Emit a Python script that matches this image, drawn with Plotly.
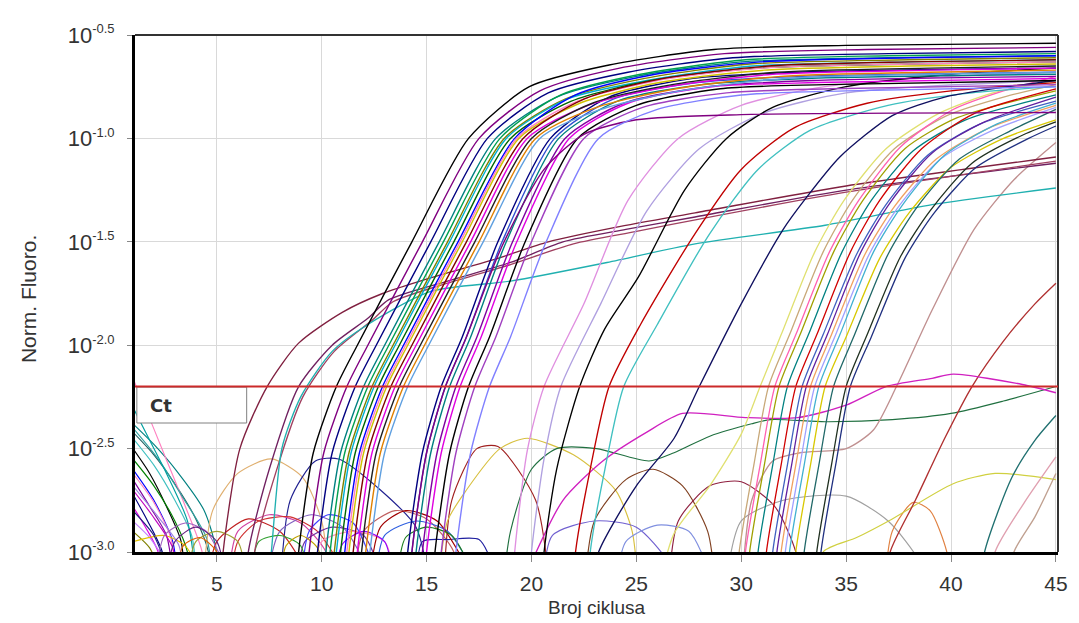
import plotly.graph_objects as go

# ---------------- data: knots (cycle, log10 normalised fluorescence) -------------
# early amplification cluster
e01 = [(8.7,-3.3),(8.9,-3.0),(9.6,-2.52),(10.7,-2.2),(11.7,-2.0),(14.3,-1.5),(17.0,-1.0),(19.9,-0.75),(23.7,-0.645),(28.7,-0.57),(35,-0.55),(45,-0.54)]
e02 = [(9.2,-3.3),(9.4,-3.0),(10.1,-2.52),(11.2,-2.2),(12.2,-2.0),(14.8,-1.5),(17.5,-1.0),(20.4,-0.77),(24.2,-0.66),(29.2,-0.59),(36,-0.57),(45,-0.56)]
e03 = [(9.6,-3.3),(9.8,-3.0),(10.5,-2.52),(11.6,-2.2),(12.6,-2.0),(15.2,-1.5),(17.9,-1.0),(20.8,-0.78),(24.6,-0.68),(29.6,-0.61),(37,-0.59),(45,-0.58)]
e04 = [(10.0,-3.3),(10.2,-3.0),(10.9,-2.52),(12.0,-2.2),(13.0,-2.0),(15.6,-1.5),(18.3,-1.0),(21.2,-0.8),(25.0,-0.70),(30,-0.63),(37,-0.61),(45,-0.60)]
e05 = [(10.2,-3.3),(10.4,-3.0),(11.1,-2.52),(12.2,-2.2),(13.2,-2.0),(15.8,-1.5),(18.5,-1.0),(21.4,-0.79),(25.2,-0.69),(30.2,-0.62),(37,-0.60),(45,-0.59)]
e06 = [(10.4,-3.3),(10.6,-3.0),(11.3,-2.52),(12.4,-2.2),(13.4,-2.0),(16.0,-1.5),(18.7,-1.0),(21.6,-0.81),(25.4,-0.71),(30.4,-0.64),(38,-0.62),(45,-0.61)]
e07 = [(10.5,-3.3),(10.7,-3.0),(11.4,-2.52),(12.5,-2.2),(13.5,-2.0),(16.1,-1.5),(18.8,-1.0),(21.7,-0.81),(25.5,-0.72),(30.5,-0.65),(38,-0.63),(45,-0.62)]
e08 = [(10.7,-3.3),(10.9,-3.0),(11.6,-2.52),(12.7,-2.2),(13.7,-2.0),(16.3,-1.5),(19.0,-1.0),(21.9,-0.82),(25.7,-0.72),(30.7,-0.66),(38,-0.64),(45,-0.63)]
e09 = [(10.9,-3.3),(11.1,-3.0),(11.8,-2.52),(12.9,-2.2),(13.9,-2.0),(16.5,-1.5),(19.2,-1.0),(22.1,-0.79),(25.9,-0.69),(30.9,-0.63),(38,-0.61),(45,-0.60)]
e10 = [(11.0,-3.3),(11.2,-3.0),(11.9,-2.52),(13.0,-2.2),(14.0,-2.0),(16.6,-1.5),(19.3,-1.0),(22.2,-0.82),(26.0,-0.72),(31.0,-0.66),(38,-0.64),(45,-0.63)]
e11 = [(11.1,-3.3),(11.3,-3.0),(12.0,-2.52),(13.1,-2.2),(14.1,-2.0),(16.7,-1.5),(19.4,-1.0),(22.3,-0.83),(26.1,-0.73),(31.1,-0.67),(38,-0.65),(45,-0.64)]
e12 = [(11.3,-3.3),(11.5,-3.0),(12.2,-2.52),(13.3,-2.2),(14.3,-2.0),(16.9,-1.5),(19.6,-1.0),(22.5,-0.81),(26.3,-0.71),(31.3,-0.65),(38,-0.63),(45,-0.62)]
e13 = [(11.5,-3.3),(11.7,-3.0),(12.4,-2.52),(13.5,-2.2),(14.5,-2.0),(17.1,-1.5),(19.8,-1.0),(22.7,-0.84),(26.5,-0.75),(31.5,-0.69),(39,-0.67),(45,-0.66)]
e14 = [(11.7,-3.3),(11.9,-3.0),(12.6,-2.52),(13.7,-2.2),(14.7,-2.0),(17.3,-1.5),(20.0,-1.0),(22.9,-0.83),(26.7,-0.74),(31.7,-0.68),(39,-0.66),(45,-0.65)]
e15 = [(11.9,-3.3),(12.1,-3.0),(12.8,-2.52),(13.9,-2.2),(14.9,-2.0),(17.5,-1.5),(20.2,-1.0),(23.1,-0.85),(26.9,-0.76),(31.9,-0.70),(39,-0.68),(45,-0.67)]
e16 = [(12.1,-3.3),(12.3,-3.0),(13.0,-2.52),(14.1,-2.2),(15.1,-2.0),(17.7,-1.5),(20.4,-1.0),(23.3,-0.86),(27.1,-0.77),(32.1,-0.71),(39,-0.69),(45,-0.68)]
early_curves = [e01,e02,e03,e04,e05,e06,e07,e08,e09,e10,e11,e12,e13,e14,e15,e16]
early_colors = ["#000000","#800080","#000080","#008080","#00a050","#808000","#00b0d0","#006400",
                "#0000ff","#ff80c0","#d0c000","#800000","#e000e0","#202020","#e08000","#60a0e0"]

# second cluster
m01 = [(13.9,-3.3),(14.1,-3.0),(14.8,-2.52),(15.7,-2.2),(16.7,-1.96),(18.4,-1.5),(20.9,-1.0),(23.7,-0.8),(27.7,-0.71),(32.7,-0.68),(45,-0.66)]
m02 = [(14.1,-3.3),(14.3,-3.0),(15.0,-2.52),(15.9,-2.2),(16.9,-1.96),(18.6,-1.5),(21.1,-1.0),(23.9,-0.81),(27.9,-0.73),(32.9,-0.70),(45,-0.68)]
m03 = [(14.3,-3.3),(14.5,-3.0),(15.2,-2.52),(16.1,-2.2),(17.1,-1.96),(18.8,-1.5),(21.3,-1.0),(24.1,-0.82),(28.1,-0.74),(33.1,-0.71),(45,-0.69)]
m04 = [(14.6,-3.3),(14.8,-3.0),(15.5,-2.52),(16.4,-2.2),(17.4,-1.96),(19.1,-1.5),(21.6,-1.0),(24.4,-0.83),(28.4,-0.75),(33.4,-0.72),(45,-0.70)]
m05 = [(14.8,-3.3),(15.0,-3.0),(15.7,-2.52),(16.6,-2.2),(17.6,-1.96),(19.3,-1.5),(21.8,-1.0),(24.6,-0.83),(28.6,-0.75),(33.6,-0.73),(45,-0.71)]
m06 = [(15.2,-3.3),(15.4,-3.0),(16.1,-2.52),(17.0,-2.2),(18.0,-1.96),(19.7,-1.5),(22.2,-1.0),(25.0,-0.84),(29.0,-0.76),(34,-0.74),(45,-0.72)]
m07 = [(15.5,-3.3),(15.7,-3.0),(16.4,-2.52),(17.3,-2.2),(18.3,-1.96),(20.0,-1.5),(22.5,-1.0),(25.3,-0.85),(29.3,-0.78),(34.3,-0.76),(45,-0.74)]
m08 = [(14.1,-3.3),(14.3,-3.0),(15.0,-2.52),(15.9,-2.2),(16.9,-1.96),(18.6,-1.52),(20.6,-1.15),(22.5,-0.98),(25,-0.91),(30,-0.885),(45,-0.875)]
m09 = [(16.2,-3.3),(16.4,-3.0),(17.1,-2.52),(18.0,-2.2),(19.0,-1.96),(20.7,-1.5),(23.2,-1.0),(26.0,-0.86),(30,-0.79),(35,-0.77),(45,-0.75)]
mid_curves = [m01,m02,m03,m04,m05,m06,m07,m08,m09]
mid_colors = ["#000080","#3050d0","#008080","#8000a0","#e000e0","#000000","#a040c0","#800080","#8080ff"]

# isolated middle curves
s01 = [(19.0,-3.3),(19.2,-3.0),(19.8,-2.51),(20.6,-2.2),(22.5,-1.8),(24.6,-1.3),(27,-1.0),(30,-0.84),(34,-0.75),(40,-0.70),(45,-0.68)]
s02 = [(19.8,-3.3),(20.0,-3.0),(20.6,-2.55),(21.4,-2.2),(23.3,-1.8),(25.5,-1.35),(28,-1.05),(31,-0.88),(35,-0.78),(45,-0.72)]
s03 = [(20.4,-3.3),(20.6,-3.0),(21.2,-2.6),(22.3,-2.2),(23.5,-1.92),(25.1,-1.67),(27.3,-1.25),(29.3,-1.0),(31.5,-0.85),(35,-0.75),(40,-0.69),(45,-0.66)]
s04 = [(21.9,-3.3),(22.1,-3.0),(22.8,-2.6),(23.7,-2.2),(25.2,-1.9),(27.8,-1.46),(30,-1.15),(32.5,-0.95),(36,-0.83),(40,-0.77),(45,-0.73)]
s05 = [(22.6,-3.3),(22.8,-3.0),(23.5,-2.6),(24.4,-2.2),(26,-1.9),(28.5,-1.46),(30.8,-1.15),(33.3,-0.96),(37,-0.84),(41,-0.78),(45,-0.75)]
s06 = [(22.8,-3.2),(23.2,-3.0),(25,-2.68),(26.8,-2.45),(28.0,-2.2),(30,-1.8),(32,-1.44),(33,-1.3),(34.7,-1.09),(37.2,-0.89),(39.7,-0.8),(45,-0.72)]
single_curves = [s01,s02,s03,s04,s05,s06]
single_colors = ["#e090e0","#b0a0e0","#000000","#c00000","#40c0c0","#101060"]

# late cluster
l01 = [(26.0,-3.2),(26.8,-2.91),(28.5,-2.68),(30.0,-2.43),(30.9,-2.2),(31.9,-1.95),(33.5,-1.55),(34.9,-1.3),(36.9,-1.05),(39.4,-0.88),(42,-0.78),(45,-0.72)]
l02 = [(29.7,-3.3),(29.9,-3.0),(30.6,-2.58),(31.3,-2.2),(32.3,-1.95),(33.9,-1.55),(35.3,-1.3),(37.3,-1.05),(39.8,-0.89),(42.5,-0.8),(45,-0.74)]
l03 = [(30.2,-3.3),(30.4,-3.0),(31.1,-2.58),(31.8,-2.2),(32.8,-1.95),(34.4,-1.55),(35.8,-1.3),(37.8,-1.05),(40.3,-0.9),(45,-0.77)]
l04 = [(30.6,-3.3),(30.8,-3.0),(31.5,-2.58),(32.2,-2.2),(33.2,-1.95),(34.8,-1.55),(36.2,-1.3),(38.2,-1.06),(40.7,-0.91),(45,-0.79)]
l05 = [(31.0,-3.3),(31.2,-3.0),(31.9,-2.58),(32.6,-2.2),(33.6,-1.95),(35.2,-1.55),(36.6,-1.3),(38.6,-1.05),(41.1,-0.88),(45,-0.76)]
l06 = [(31.3,-3.3),(31.5,-3.0),(32.2,-2.58),(32.9,-2.2),(33.9,-1.95),(35.5,-1.56),(36.9,-1.32),(38.9,-1.08),(41.4,-0.93),(45,-0.82)]
l07 = [(31.5,-3.3),(31.7,-3.0),(32.4,-2.58),(33.1,-2.2),(34.1,-1.95),(35.7,-1.55),(37.1,-1.31),(39.1,-1.07),(41.6,-0.92),(45,-0.80)]
l08 = [(31.7,-3.3),(31.9,-3.0),(32.6,-2.58),(33.3,-2.2),(34.3,-1.95),(35.9,-1.56),(37.3,-1.33),(39.3,-1.1),(41.8,-0.95),(45,-0.84)]
l09 = [(31.9,-3.3),(32.1,-3.0),(32.8,-2.58),(33.5,-2.2),(34.5,-1.95),(36.1,-1.56),(37.5,-1.33),(39.5,-1.1),(42,-0.96),(45,-0.85)]
l10 = [(32.1,-3.3),(32.3,-3.0),(33.0,-2.58),(33.7,-2.2),(34.7,-1.95),(36.3,-1.55),(37.7,-1.32),(39.7,-1.08),(42.2,-0.93),(45,-0.83)]
l11 = [(32.4,-3.3),(32.6,-3.0),(33.3,-2.58),(34.0,-2.2),(35.0,-1.96),(36.6,-1.58),(38,-1.36),(40,-1.14),(42.5,-1.0),(45,-0.91)]
l12 = [(32.8,-3.3),(33.0,-3.0),(33.7,-2.58),(34.4,-2.2),(35.4,-1.95),(37.0,-1.56),(38.4,-1.33),(40.4,-1.1),(42.9,-0.96),(45,-0.86)]
l13 = [(33.4,-3.3),(33.6,-3.0),(34.3,-2.58),(35.0,-2.2),(36.0,-1.95),(37.6,-1.57),(39.0,-1.35),(41.0,-1.12),(43.5,-0.98),(45,-0.92)]
l14 = [(33.6,-3.3),(33.8,-3.0),(34.5,-2.58),(35.2,-2.2),(36.2,-1.96),(37.8,-1.58),(39.2,-1.36),(41.2,-1.14),(43.7,-1.0),(45,-0.94)]
l15 = [(30.0,-3.3),(30.2,-3.0),(30.9,-2.58),(31.6,-2.2),(32.6,-1.95),(34.2,-1.55),(35.6,-1.3),(37.6,-1.04),(40.1,-0.86),(42.5,-0.77),(45,-0.70)]
late_curves = [l01,l02,l03,l04,l05,l06,l07,l08,l09,l10,l11,l12,l13,l14,l15]
late_colors = ["#e0e070","#c8a878","#a0a000","#008080","#d00000","#4060c0","#6020a0","#f0a060",
               "#a0a0ff","#40b0d0","#d8c800","#206868","#203020","#203080","#ff60b0"]

# very late / drifting curves
v01 = [(30.0,-3.2),(30.5,-2.75),(31.5,-2.56),(32.8,-2.52),(35.0,-2.5),(36.3,-2.41),(37.4,-2.2),(39.1,-1.83),(41.1,-1.44),(43,-1.2),(45,-1.02)]
v02 = [(36.9,-3.2),(37.1,-3.0),(38.3,-2.75),(39.7,-2.45),(41.0,-2.2),(42.5,-1.98),(44,-1.8),(45,-1.70)]
v03 = [(41.4,-3.2),(41.6,-3.0),(42.9,-2.64),(44,-2.46),(45,-2.34)]
v04 = [(41.9,-3.2),(42.1,-3.0),(43.5,-2.76),(45,-2.54)]
v05 = [(42.8,-3.2),(43.0,-3.0),(44,-2.83),(45,-2.62)]
v06 = [(20.0,-3.05),(21.5,-2.75),(23.4,-2.56),(25.5,-2.42),(27.2,-2.33),(30.2,-2.35),(32.7,-2.35),(35.0,-2.29),(36.9,-2.2),(39.1,-2.16),(40.1,-2.14),(43.4,-2.19),(45,-2.23)]
v07 = [(5.1,-3.3),(5.3,-3.0),(6.1,-2.5),(7.4,-2.2),(8.9,-1.99),(11,-1.84),(12.9,-1.75),(15,-1.68),(18.4,-1.58),(20.8,-1.5),(24,-1.43),(27.8,-1.36),(35,-1.23),(45,-1.09)]
v08 = [(6.3,-3.3),(6.5,-3.0),(7.5,-2.6),(8.9,-2.2),(10.5,-2.0),(12.2,-1.87),(13.2,-1.78),(16,-1.69),(19,-1.6),(21.5,-1.5),(24.5,-1.44),(27.8,-1.38),(35,-1.25),(45,-1.12)]
v09 = [(6.6,-3.3),(6.8,-3.0),(7.8,-2.62),(9.1,-2.25),(10.6,-2.03),(12.4,-1.88),(13.4,-1.79),(16,-1.7),(19,-1.61),(22,-1.51),(25,-1.45),(28,-1.39),(35,-1.26),(45,-1.11)]
v10 = [(7.4,-3.2),(7.6,-3.0),(8.1,-2.5),(9.0,-2.25),(10.5,-2.03),(12.2,-1.9),(15.2,-1.74),(19.0,-1.69),(23.6,-1.60),(27.8,-1.51),(34,-1.42),(39.1,-1.32),(45,-1.24)]
late_single_curves = [v01,v02,v03,v04,v05,v06,v07,v08,v09,v10]
late_single_colors = ["#c09090","#b03030","#207070","#e0a0b0","#c0a090","#d020c0","#802040","#702060","#a04060","#20b0b0"]

# baseline noise: falling lines from cycle 1 and arcs near the floor
n01 = [(1.0,-2.38),(2.0,-2.48),(3.1,-2.61),(4.4,-2.80),(4.95,-2.98),(5.1,-3.2)]
n02 = [(1.0,-2.42),(2.0,-2.53),(3.0,-2.67),(4.0,-2.84),(4.6,-3.0),(4.7,-3.2)]
n03 = [(1.0,-2.5),(1.8,-2.62),(2.6,-2.78),(3.3,-2.95),(3.5,-3.2)]
n04 = [(1.0,-2.45),(2.0,-2.58),(3.0,-2.75),(3.8,-2.92),(4.1,-3.2)]
n05 = [(1.0,-2.65),(1.8,-2.78),(2.6,-2.92),(3.0,-3.2)]
n06 = [(1.0,-2.72),(1.7,-2.85),(2.4,-3.0),(2.5,-3.2)]
n07 = [(1.0,-2.78),(1.6,-2.88),(2.2,-3.0),(2.3,-3.2)]
n08 = [(1.0,-2.85),(1.8,-2.93),(2.6,-3.05)]
n09 = [(1.0,-2.16),(1.5,-2.28),(2.5,-2.53),(3.5,-2.78),(4.3,-3.0),(4.4,-3.2)]
n10 = [(1.0,-2.6),(2.0,-2.75),(2.9,-2.95),(3.2,-3.2)]
n11 = [(1.0,-2.9),(1.8,-2.98),(2.3,-3.1)]
n12 = [(1.0,-2.55),(2.0,-2.68),(3.0,-2.85),(3.6,-3.0),(3.7,-3.2)]
n13 = [(1.0,-2.62),(2.0,-2.76),(2.8,-2.93),(3.1,-3.2)]
n14 = [(1.0,-2.95),(2.5,-2.92),(3.5,-2.97),(4.2,-3.1)]
n15 = [(1.0,-2.68),(2.2,-2.83),(3.2,-2.97),(3.4,-3.2)]
n16 = [(1.0,-2.40),(2.2,-2.55),(3.4,-2.74),(4.5,-2.93),(4.9,-3.2)]
n17 = [(1.0,-2.8),(2.0,-2.92),(2.7,-3.1)]
n18 = [(1.0,-2.7),(1.9,-2.82),(2.9,-2.98),(3.1,-3.2)]
n19 = [(1.0,-2.3),(1.6,-2.42),(2.6,-2.62),(3.6,-2.85),(4.1,-3.2)]
a01 = [(4.3,-3.2),(4.8,-2.8),(6.0,-2.62),(7.6,-2.55),(9.1,-2.64),(10.0,-2.85),(10.4,-3.2)]
a02 = [(8.0,-3.2),(8.5,-2.75),(9.7,-2.56),(10.8,-2.55),(12.8,-2.7),(14.5,-2.88),(15.2,-3.2)]
a03 = [(15.8,-3.2),(16.2,-2.75),(17.4,-2.5),(18.4,-2.49),(20.2,-2.75),(20.9,-3.2)]
a04 = [(15.5,-3.2),(16.0,-2.85),(16.9,-2.70),(18.5,-2.5),(19.8,-2.45),(22,-2.53),(24.0,-2.70),(24.8,-2.9),(25.1,-3.2)]
a05 = [(18.6,-3.2),(19.0,-2.9),(20.0,-2.6),(21.2,-2.5),(23.1,-2.5),(25.6,-2.56),(26.8,-2.52),(28.5,-2.44),(30.5,-2.38),(31.4,-2.36),(34,-2.37),(37.2,-2.36),(40.0,-2.33),(42.5,-2.27),(45,-2.2)]
a06 = [(22.5,-3.2),(23.0,-2.85),(24.5,-2.65),(25.8,-2.6),(27.2,-2.68),(28.4,-2.9),(28.8,-3.2)]
a07 = [(26.5,-3.2),(27.0,-2.85),(28.5,-2.68),(30.0,-2.66),(31.6,-2.78),(32.6,-3.0),(32.8,-3.2)]
a08 = [(29.2,-3.2),(30.0,-2.85),(32.0,-2.75),(35.0,-2.73),(37.0,-2.85),(38.5,-3.05),(38.7,-3.2)]
a09 = [(36.8,-3.2),(37.2,-2.9),(38.2,-2.76),(39.0,-2.8),(39.8,-3.0),(40.0,-3.2)]
a10 = [(33.7,-3.2),(33.9,-3.0),(35.5,-2.93),(37.2,-2.84),(40.1,-2.67),(42.1,-2.62),(45,-2.65)]
a11 = [(5.5,-3.2),(6.0,-2.9),(7.5,-2.82),(9,-2.86),(10.2,-3.0),(10.4,-3.2)]
a12 = [(4.5,-3.2),(5.0,-2.95),(6.5,-2.84),(8,-2.9),(9,-3.05),(9.2,-3.2)]
a13 = [(7.3,-3.2),(8.0,-2.9),(9.5,-2.82),(11.0,-2.88),(12.0,-3.05),(12.2,-3.2)]
a14 = [(20.5,-3.2),(21,-2.92),(23,-2.85),(25,-2.88),(26.5,-3.05),(26.7,-3.2)]
a15 = [(24,-3.2),(24.5,-2.95),(26,-2.87),(27.5,-2.9),(28.5,-3.1)]
a16 = [(2.0,-3.2),(2.5,-2.92),(3.5,-2.86),(4.5,-2.9),(5.3,-3.05)]
a17 = [(11.5,-3.2),(12.0,-2.9),(13.5,-2.8),(15.0,-2.84),(16.3,-3.0),(16.5,-3.2)]
a18 = [(14.5,-3.2),(14.8,-2.95),(16,-2.94),(17.5,-2.94),(18.3,-3.1)]
a19 = [(5.6,-3.2),(6.0,-2.95),(7.0,-2.85),(8.5,-2.83),(9.8,-2.9),(10.8,-3.05)]
a20 = [(3.5,-3.2),(4.0,-2.95),(5.0,-2.9),(6.0,-2.95),(6.5,-3.2)]
a21 = [(8.8,-3.2),(9.2,-2.95),(10.5,-2.88),(12,-2.92),(12.8,-3.1)]
a22 = [(6.5,-3.2),(7.0,-2.95),(8.0,-2.92),(9.0,-2.97),(9.4,-3.2)]
a23 = [(12.5,-3.2),(13,-2.92),(14.5,-2.85),(16,-2.9),(17,-3.05)]
a24 = [(9.5,-3.2),(10,-2.95),(11.5,-2.9),(13,-2.95),(13.6,-3.2)]
a25 = [(2.5,-3.2),(3.0,-2.95),(4.0,-2.88),(5.0,-2.95),(5.5,-3.2)]
a26 = [(3.0,-3.2),(3.4,-2.97),(4.2,-2.93),(5.0,-3.0),(5.2,-3.2)]
a27 = [(9.0,-3.2),(9.4,-2.9),(10.3,-2.82),(11.5,-2.86),(12.4,-3.05)]
a28 = [(12.2,-3.2),(12.8,-2.88),(14.0,-2.8),(15.5,-2.85),(16.8,-3.05)]
a29 = [(13.5,-3.2),(14.0,-2.93),(15.0,-2.88),(16.2,-2.92),(17.2,-3.1)]
a30 = [(8.0,-3.2),(8.3,-2.97),(9.0,-2.92),(9.8,-2.98),(10.2,-3.2)]
a31 = [(10.5,-3.2),(11.0,-2.96),(12.0,-2.9),(13.0,-2.95),(13.5,-3.2)]
noise_curves = [n01,n02,n03,n04,n05,n06,n07,n08,n09,n10,n11,n12,n13,n14,n15,n16,n17,n18,n19,
                a01,a02,a03,a04,a05,a06,a07,a08,a09,a10,a11,a12,a13,a14,a15,a16,a17,a18,
                a19,a20,a21,a22,a23,a24,a25,a26,a27,a28,a29,a30,a31]
noise_colors = ["#008080","#206060","#000000","#40c0c0","#8000a0","#000080","#e000e0","#c080ff","#ff80c0","#0000ff","#808000","#008000",
                "#ff80c0","#e0c000","#a080e0","#30a0a0","#202080","#c000c0","#00a0a0",
                "#e0b070","#202090","#a02020","#d8c040","#207040","#804020","#902040","#a0a0a0","#e08040","#d0d040",
                "#d040a0","#c02020","#8060c0","#7060d0","#8090e0","#a060c0","#c06060","#2020a0",
                "#d03030","#a0a030","#7030a0","#30a030","#3060e0","#ff90c0",
                "#602080","#e06000","#4040ff","#a00000","#208020","#c0a000","#9000ff"]

cycle_ticks = [5, 10, 15, 20, 25, 30, 35, 40, 45]
log_ticks = [-3.0, -2.5, -2.0, -1.5, -1.0, -0.5]
ct_threshold_log = -2.2

# ---------------- figure ----------------
fig = go.Figure()

def add_group(curves, colors, width=1.3):
    for pts, col in zip(curves, colors):
        fig.add_trace(go.Scatter(
            x=[p[0] for p in pts], y=[10 ** p[1] for p in pts], mode="lines",
            line=dict(color=col, width=width, shape="spline", smoothing=0.7),
            hoverinfo="skip", showlegend=False))

add_group(noise_curves, noise_colors, 1.15)
add_group(late_single_curves, late_single_colors, 1.35)
add_group(late_curves, late_colors, 1.3)
add_group(single_curves, single_colors, 1.35)
add_group(mid_curves, mid_colors, 1.4)
add_group(early_curves, early_colors, 1.4)

font_family = "Arial, Liberation Sans, sans-serif"

fig.update_layout(
    width=1079, height=623, autosize=False,
    margin=dict(l=135, r=11, t=35, b=71, pad=0),
    paper_bgcolor="white", plot_bgcolor="white",
    font=dict(family=font_family, size=14, color="#333333"),
    xaxis=dict(range=[1.1, 45.1], tickvals=cycle_ticks, ticktext=[str(v) for v in cycle_ticks],
               showgrid=True, gridcolor="#d9d9d9", gridwidth=1, zeroline=False,
               showline=True, linecolor="#000000", linewidth=3,
               ticks="outside", ticklen=7, tickcolor="#888888", tickwidth=1,
               ticklabelstandoff=4,
               tickfont=dict(size=21, color="#333333")),
    yaxis=dict(type="log", range=[-3.0, -0.5], tickvals=[10 ** v for v in log_ticks],
               ticktext=["10<sup><span style='font-size:13px'>%.1f</span></sup>" % v for v in log_ticks],
               showgrid=True, gridcolor="#d9d9d9", gridwidth=1, zeroline=False,
               showline=True, linecolor="#000000", linewidth=3,
               ticks="outside", ticklen=5, tickcolor="#888888", tickwidth=1,
               ticklabelstandoff=8,
               tickfont=dict(size=22, color="#333333")),
    shapes=[
        dict(type="line", xref="paper", yref="paper", x0=0, x1=1, y0=1, y1=1,
             line=dict(color="#333333", width=2), layer="above"),
        dict(type="line", xref="paper", yref="paper", x0=1, x1=1, y0=0, y1=1,
             line=dict(color="#333333", width=2), layer="above"),
        dict(type="rect", xref="paper", yref="paper", x0=0.002, x1=0.121, y0=0.2495, y1=0.319,
             fillcolor="white", line=dict(color="#808080", width=1), layer="above"),
        dict(type="line", xref="paper", yref="y", x0=0, x1=1,
             y0=10 ** ct_threshold_log, y1=10 ** ct_threshold_log,
             line=dict(color="#cc2a2a", width=2), layer="above"),
    ],
    annotations=[
        dict(text="<b>Ct</b>", xref="paper", yref="paper", x=0.014, y=0.284, xanchor="left", yanchor="middle",
             showarrow=False, font=dict(family="DejaVu Sans, Arial", size=18, color="#333333")),
        dict(text="Norm. Fluoro.", xref="paper", yref="paper", x=-0.116, y=0.489, textangle=-90,
             showarrow=False, xanchor="center", yanchor="middle",
             font=dict(family=font_family, size=21, color="#333333")),
        dict(text="Broj ciklusa", xref="paper", yref="paper", x=0.50, y=-0.107,
             showarrow=False, xanchor="center", yanchor="middle",
             font=dict(family=font_family, size=19, color="#333333")),
    ],
)

fig.write_html("out.html", config={"displayModeBar": False},
               post_script="document.body.style.margin='0';document.body.style.padding='0';")
